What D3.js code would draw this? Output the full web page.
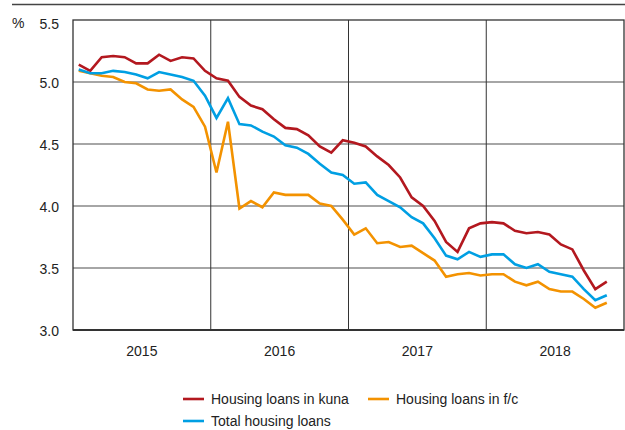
<!DOCTYPE html>
<html>
<head>
<meta charset="utf-8">
<script src="https://cdn.jsdelivr.net/npm/d3@7/dist/d3.min.js"></script>
<style>
  body { margin: 0; background: #fff; }
  svg text { font-family: "Liberation Sans", Arial, sans-serif; fill: #222; }
</style>
</head>
<body>
<div id="chart"></div>
<script>
// monthly, Jan 2015 - Nov 2018
const years = ['2015', '2016', '2017', '2018'];
const yTicks = [3.0, 3.5, 4.0, 4.5, 5.0, 5.5];

const kuna = [5.14, 5.09, 5.20, 5.21, 5.20, 5.15, 5.15, 5.22, 5.17, 5.20, 5.19, 5.09,
  5.03, 5.01, 4.88, 4.81, 4.78, 4.70, 4.63, 4.62, 4.57, 4.48, 4.43, 4.53,
  4.51, 4.48, 4.40, 4.33, 4.23, 4.07, 4.00, 3.88, 3.71, 3.63, 3.82, 3.86,
  3.87, 3.86, 3.80, 3.78, 3.79, 3.77, 3.69, 3.65, 3.48, 3.33, 3.39];
const fc = [5.09, 5.07, 5.05, 5.04, 5.00, 4.99, 4.94, 4.93, 4.94, 4.86, 4.80, 4.64,
  4.27, 4.68, 3.98, 4.04, 3.99, 4.11, 4.09, 4.09, 4.09, 4.02, 4.00, 3.89,
  3.77, 3.82, 3.70, 3.71, 3.67, 3.68, 3.62, 3.56, 3.43, 3.45, 3.46, 3.44,
  3.45, 3.45, 3.39, 3.36, 3.39, 3.33, 3.31, 3.31, 3.25, 3.18, 3.22];
const total = [5.10, 5.07, 5.07, 5.09, 5.08, 5.06, 5.03, 5.08, 5.06, 5.04, 5.01, 4.89,
  4.71, 4.87, 4.66, 4.65, 4.60, 4.56, 4.49, 4.47, 4.42, 4.34, 4.27, 4.25,
  4.18, 4.19, 4.09, 4.04, 3.99, 3.91, 3.86, 3.74, 3.60, 3.57, 3.63, 3.59,
  3.61, 3.61, 3.53, 3.50, 3.53, 3.47, 3.45, 3.43, 3.33, 3.24, 3.28];

const seriesNames = ['Housing loans in kuna', 'Housing loans in f/c', 'Total housing loans'];
const colors = ['#b3181f', '#f39200', '#009fe3'];

const W = 625, H = 430;
const margin = {top: 20, right: 1, bottom: 100, left: 73};

const svg = d3.select('#chart').append('svg')
    .attr('width', W)
    .attr('height', H);

// top rule
svg.append('line')
    .attr('x1', 12).attr('x2', W).attr('y1', 4.5).attr('y2', 4.5)
    .attr('stroke', '#444').attr('stroke-width', 1.3);

const x = d3.scaleLinear()
    .domain([0, years.length * 12])
    .range([margin.left, W - margin.right]);

const y = d3.scaleLinear()
    .domain([3.0, 5.5])
    .range([H - margin.bottom, margin.top]);

const g = svg.append('g');

// horizontal grid
g.selectAll('.hgrid')
  .data(yTicks.slice(1, -1))
  .enter().append('line')
    .attr('x1', x(0)).attr('x2', x(48))
    .attr('y1', d => y(d)).attr('y2', d => y(d))
    .attr('stroke', '#888').attr('stroke-width', 1.5);

// year dividers
g.selectAll('.vgrid')
  .data(d3.range(1, years.length))
  .enter().append('line')
    .attr('x1', d => x(d * 12)).attr('x2', d => x(d * 12))
    .attr('y1', y(5.5)).attr('y2', y(3.0))
    .attr('stroke', '#333').attr('stroke-width', 1);

// frame
g.append('rect')
    .attr('x', x(0)).attr('y', y(5.5))
    .attr('width', x(48) - x(0)).attr('height', y(3.0) - y(5.5))
    .attr('fill', 'none').attr('stroke', '#333').attr('stroke-width', 1.3);
g.append('line')
    .attr('x1', x(0)).attr('x2', x(48)).attr('y1', y(3.0)).attr('y2', y(3.0))
    .attr('stroke', '#333').attr('stroke-width', 2);

// y labels
const yAxis = d3.axisLeft(y)
    .tickValues(yTicks)
    .tickFormat(d3.format('.1f'))
    .tickSize(0)
    .tickPadding(14);
svg.append('g')
    .attr('transform', 'translate(' + margin.left + ',0)')
    .call(yAxis)
    .call(a => a.select('.domain').remove())
    .selectAll('text')
    .style('font-size', '14px')
    .attr('fill', '#222')
    .attr('dy', d => d === 5.5 ? '0.62em' : '0.4em');

svg.append('text')
    .attr('x', 12).attr('y', 28)
    .style('font-size', '14px')
    .text('%');

// year labels
svg.selectAll('.yearLabel')
  .data(years)
  .enter().append('text')
    .attr('x', (d, i) => x(i * 12 + 6))
    .attr('y', 356)
    .attr('text-anchor', 'middle')
    .style('font-size', '14px')
    .text(d => d);

// lines
const line = d3.line()
    .x((d, i) => x(i + 0.5))
    .y(d => y(d));

[kuna, fc, total].forEach(function(s, i) {
  g.append('path')
      .datum(s)
      .attr('d', line)
      .attr('fill', 'none')
      .attr('stroke', colors[i])
      .attr('stroke-width', 2.6)
      .attr('stroke-linejoin', 'miter');
});

// legend
const legendPos = [[183, 399], [368, 399], [183, 421]];
const legend = svg.selectAll('.legend')
  .data(seriesNames)
  .enter().append('g')
    .attr('transform', (d, i) => 'translate(' + legendPos[i][0] + ',' + legendPos[i][1] + ')');

legend.append('line')
    .attr('x1', 0).attr('x2', 21)
    .attr('stroke', (d, i) => colors[i])
    .attr('stroke-width', 2.6);

legend.append('text')
    .attr('x', 28).attr('y', 5)
    .style('font-size', '14px')
    .text(d => d);
</script>
</body>
</html>
